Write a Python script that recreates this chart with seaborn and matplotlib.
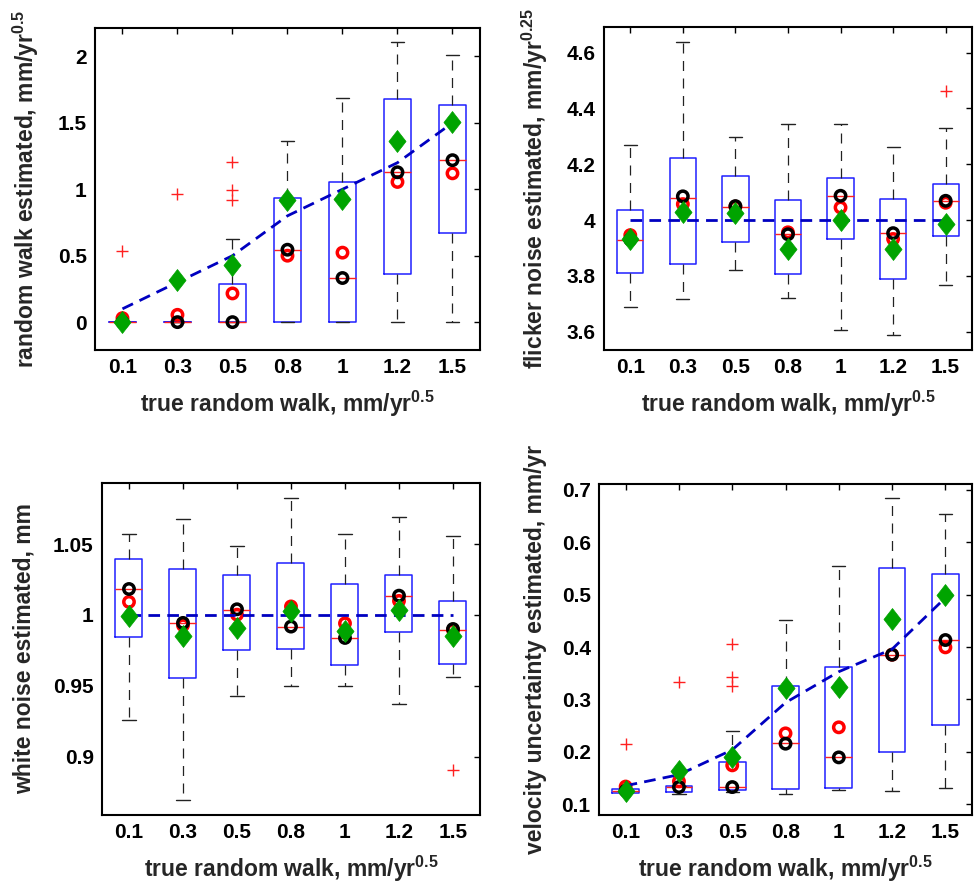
import numpy as np
import pandas as pd
import matplotlib
matplotlib.use("Agg")
import matplotlib.pyplot as plt
from matplotlib.path import Path
import seaborn as sns

# ---------------- data ----------------
categories = ["0.1", "0.3", "0.5", "0.8", "1", "1.2", "1.5"]

# Panel 1: random walk estimated
rw_q1 = [0.0, 0.0, 0.0, 0.0, 0.0, 0.364, 0.668]
rw_med = [0.0, 0.0, 0.0, 0.543, 0.332, 1.128, 1.219]
rw_q3 = [0.0, 0.0, 0.289, 0.935, 1.055, 1.678, 1.638]
rw_wlo = [0.0, 0.0, 0.0, 0.0, 0.0, 0.0, 0.0]
rw_whi = [0.0, 0.0, 0.626, 1.36, 1.69, 2.108, 2.013]
rw_out = [[0.535], [0.965], [0.922, 0.992, 1.204], [], [], [], []]
rw_red = [0.03, 0.055, 0.216, 0.50, 0.523, 1.055, 1.12]
rw_black = [0.0, 0.0, 0.0, 0.545, 0.332, 1.128, 1.219]
rw_green = [0.0, 0.317, 0.43, 0.92, 0.925, 1.36, 1.503]
rw_true = [0.1, 0.3, 0.5, 0.8, 1.0, 1.2, 1.5]

# Panel 2: flicker noise estimated
fn_q1 = [3.809, 3.843, 3.920, 3.808, 3.933, 3.788, 3.944]
fn_med = [3.929, 4.080, 4.045, 3.949, 4.085, 3.952, 4.068]
fn_q3 = [4.036, 4.222, 4.159, 4.071, 4.149, 4.075, 4.130]
fn_wlo = [3.688, 3.716, 3.820, 3.722, 3.607, 3.588, 3.767]
fn_whi = [4.268, 4.637, 4.299, 4.345, 4.343, 4.262, 4.329]
fn_out = [[], [], [], [], [], [], [4.463]]
fn_red = [3.946, 4.057, 4.048, 3.956, 4.045, 3.932, 4.062]
fn_black = [3.93, 4.085, 4.050, 3.949, 4.087, 3.953, 4.069]
fn_green = [3.931, 4.030, 4.024, 3.897, 4.000, 3.895, 3.987]
fn_true = [4.0, 4.0, 4.0, 4.0, 4.0, 4.0, 4.0]

# Panel 3: white noise estimated
wn_q1 = [0.9843, 0.9554, 0.9756, 0.9763, 0.9648, 0.9880, 0.9653]
wn_med = [1.0183, 0.9946, 1.0033, 0.9918, 0.9838, 1.0134, 0.9894]
wn_q3 = [1.0392, 1.0324, 1.0284, 1.0364, 1.0218, 1.0284, 1.0096]
wn_wlo = [0.9258, 0.8697, 0.9427, 0.9502, 0.9498, 0.9373, 0.9563]
wn_whi = [1.0570, 1.0678, 1.0488, 1.0826, 1.0570, 1.0692, 1.0554]
wn_out = [[], [], [], [], [], [], [0.8908]]
wn_red = [1.0092, 0.9927, 1.0002, 1.0060, 0.9941, 1.0099, 0.9894]
wn_black = [1.0183, 0.9944, 1.0040, 0.9918, 0.9838, 1.0136, 0.9901]
wn_green = [0.9993, 0.9850, 0.9908, 1.0030, 0.9890, 1.0035, 0.9850]
wn_true = [1.0, 1.0, 1.0, 1.0, 1.0, 1.0, 1.0]

# Panel 4: velocity uncertainty estimated
vu_q1 = [0.1222, 0.1235, 0.1280, 0.1292, 0.1305, 0.1998, 0.2513]
vu_med = [0.1260, 0.1324, 0.1330, 0.2163, 0.1896, 0.3854, 0.4134]
vu_q3 = [0.1300, 0.1356, 0.1807, 0.3250, 0.3619, 0.5514, 0.5399]
vu_wlo = [0.1222, 0.1197, 0.1235, 0.1203, 0.1280, 0.1261, 0.1312]
vu_whi = [0.1300, 0.1356, 0.2405, 0.4522, 0.5539, 0.6842, 0.6544]
vu_out = [[0.2157], [0.3327], [0.3257, 0.3435, 0.4064], [], [], [], []]
vu_red = [0.1340, 0.1440, 0.1744, 0.2354, 0.2469, 0.3854, 0.3994]
vu_black = [0.1260, 0.1330, 0.1330, 0.2157, 0.1896, 0.3854, 0.4134]
vu_green = [0.1260, 0.1642, 0.1900, 0.3212, 0.3244, 0.4535, 0.4986]
vu_true = [0.1356, 0.1566, 0.2040, 0.2940, 0.3530, 0.3960, 0.4940]

xlabel_text = "true random walk, mm/yr$\\mathregular{^{0.5}}$"
ylabels = [
    "random walk estimated, mm/yr$\\mathregular{^{0.5}}$",
    "flicker noise estimated, mm/yr$\\mathregular{^{0.25}}$",
    "white noise estimated, mm",
    "velocity uncertainty estimated, mm/yr",
]

# ---------------- style ----------------
sns.set_theme(style="white")
plt.rcParams["font.family"] = ["Liberation Sans", "DejaVu Sans"]
plt.rcParams["font.weight"] = "bold"
plt.rcParams["axes.labelweight"] = "bold"
plt.rcParams["mathtext.fontset"] = "custom"
plt.rcParams["mathtext.rm"] = "Liberation Sans:bold"
plt.rcParams["mathtext.bf"] = "Liberation Sans:bold"
plt.rcParams["mathtext.it"] = "Liberation Sans:bold"

fig = plt.figure(figsize=(9.74, 8.83), dpi=100)
rects = [
    (0.0975, 0.6036, 0.3953, 0.3647),
    (0.6201, 0.6036, 0.3778, 0.3658),
    (0.1047, 0.0770, 0.3881, 0.3760),
    (0.6150, 0.0770, 0.3830, 0.3749),
]
panels = [
    (rw_q1, rw_med, rw_q3, rw_wlo, rw_whi, rw_out, rw_red, rw_black, rw_green, rw_true,
     (-0.21, 2.214), [0, 0.5, 1, 1.5, 2], ["0", "0.5", "1", "1.5", "2"], -0.140),
    (fn_q1, fn_med, fn_q3, fn_wlo, fn_whi, fn_out, fn_red, fn_black, fn_green, fn_true,
     (3.534, 4.692), [3.6, 3.8, 4.0, 4.2, 4.4, 4.6], ["3.6", "3.8", "4", "4.2", "4.4", "4.6"], -0.147),
    (wn_q1, wn_med, wn_q3, wn_wlo, wn_whi, wn_out, wn_red, wn_black, wn_green, wn_true,
     (0.859, 1.093), [0.9, 0.95, 1.0, 1.05], ["0.9", "0.95", "1", "1.05"], -0.177),
    (vu_q1, vu_med, vu_q3, vu_wlo, vu_whi, vu_out, vu_red, vu_black, vu_green, vu_true,
     (0.0797, 0.711), [0.1, 0.2, 0.3, 0.4, 0.5, 0.6, 0.7],
     ["0.1", "0.2", "0.3", "0.4", "0.5", "0.6", "0.7"], -0.139),
]

# MATLAB-like diamond (taller than wide)
diamond = Path([(0, 1), (0.78, 0), (0, -1), (-0.78, 0), (0, 1)],
               [Path.MOVETO, Path.LINETO, Path.LINETO, Path.LINETO, Path.CLOSEPOLY])

pos = np.arange(len(categories))

for rect, p, ylab in zip(rects, panels, ylabels):
    (q1, med, q3, wlo, whi, outs, red, black, green, true,
     ylim, yticks, yticklabels, ylabx) = p
    ax = fig.add_axes(rect)
    stats = []
    for i in range(len(categories)):
        stats.append(dict(med=med[i], q1=q1[i], q3=q3[i], whislo=wlo[i],
                          whishi=whi[i], fliers=np.array(outs[i], dtype=float)))
    ax.bxp(stats, positions=pos, widths=0.5, capwidths=0.25,
           boxprops=dict(color="#1f1fff", linewidth=1.1),
           medianprops=dict(color="#ff2020", linewidth=1.0),
           whiskerprops=dict(color="#222222", linewidth=0.9, linestyle=(0, (8, 6))),
           capprops=dict(color="#222222", linewidth=1.0),
           flierprops=dict(marker="+", markeredgecolor="#ff2020", markersize=8,
                           markeredgewidth=1.0, linestyle="none"),
           manage_ticks=False, zorder=2)

    df = pd.DataFrame({"pos": pos, "red": red, "black": black,
                       "green": green, "true": true})
    sns.scatterplot(data=df, x="pos", y="red", marker="o", s=56,
                    facecolor="none", edgecolor="#ff0000", linewidth=2.5,
                    ax=ax, zorder=3)
    sns.scatterplot(data=df, x="pos", y="black", marker="o", s=56,
                    facecolor="none", edgecolor="#000000", linewidth=2.5,
                    ax=ax, zorder=4)
    sns.lineplot(data=df, x="pos", y="true", color="#0000c0", linewidth=2.0,
                 dashes=False, linestyle=(0, (4.2, 2.6)), ax=ax, zorder=5)
    sns.scatterplot(data=df, x="pos", y="green", marker=diamond, s=250,
                    color="#00a400", edgecolor="#00a400", linewidth=0.5,
                    ax=ax, zorder=6)

    ax.set_xlim(-0.5, len(categories) - 0.5)
    ax.set_ylim(*ylim)
    ax.set_xticks(pos)
    ax.set_xticklabels(categories)
    ax.set_yticks(yticks)
    ax.set_yticklabels(yticklabels)
    ax.tick_params(axis="both", which="both", direction="in", length=4, width=1.0,
                   top=True, right=True, labelsize=15, pad=6, colors="black")
    for lbl in ax.get_xticklabels() + ax.get_yticklabels():
        lbl.set_fontweight("bold")
    for s in ax.spines.values():
        s.set_linewidth(1.5)
        s.set_color("black")
        s.set_visible(True)
    ax.set_xlabel(xlabel_text, fontsize=16.5, fontweight="bold", labelpad=8)
    ax.set_ylabel(ylab, fontsize=16.5, fontweight="bold")
    ax.yaxis.set_label_coords(ylabx, 0.5)
    ax.grid(False)

fig.savefig("out.png", dpi=100)
